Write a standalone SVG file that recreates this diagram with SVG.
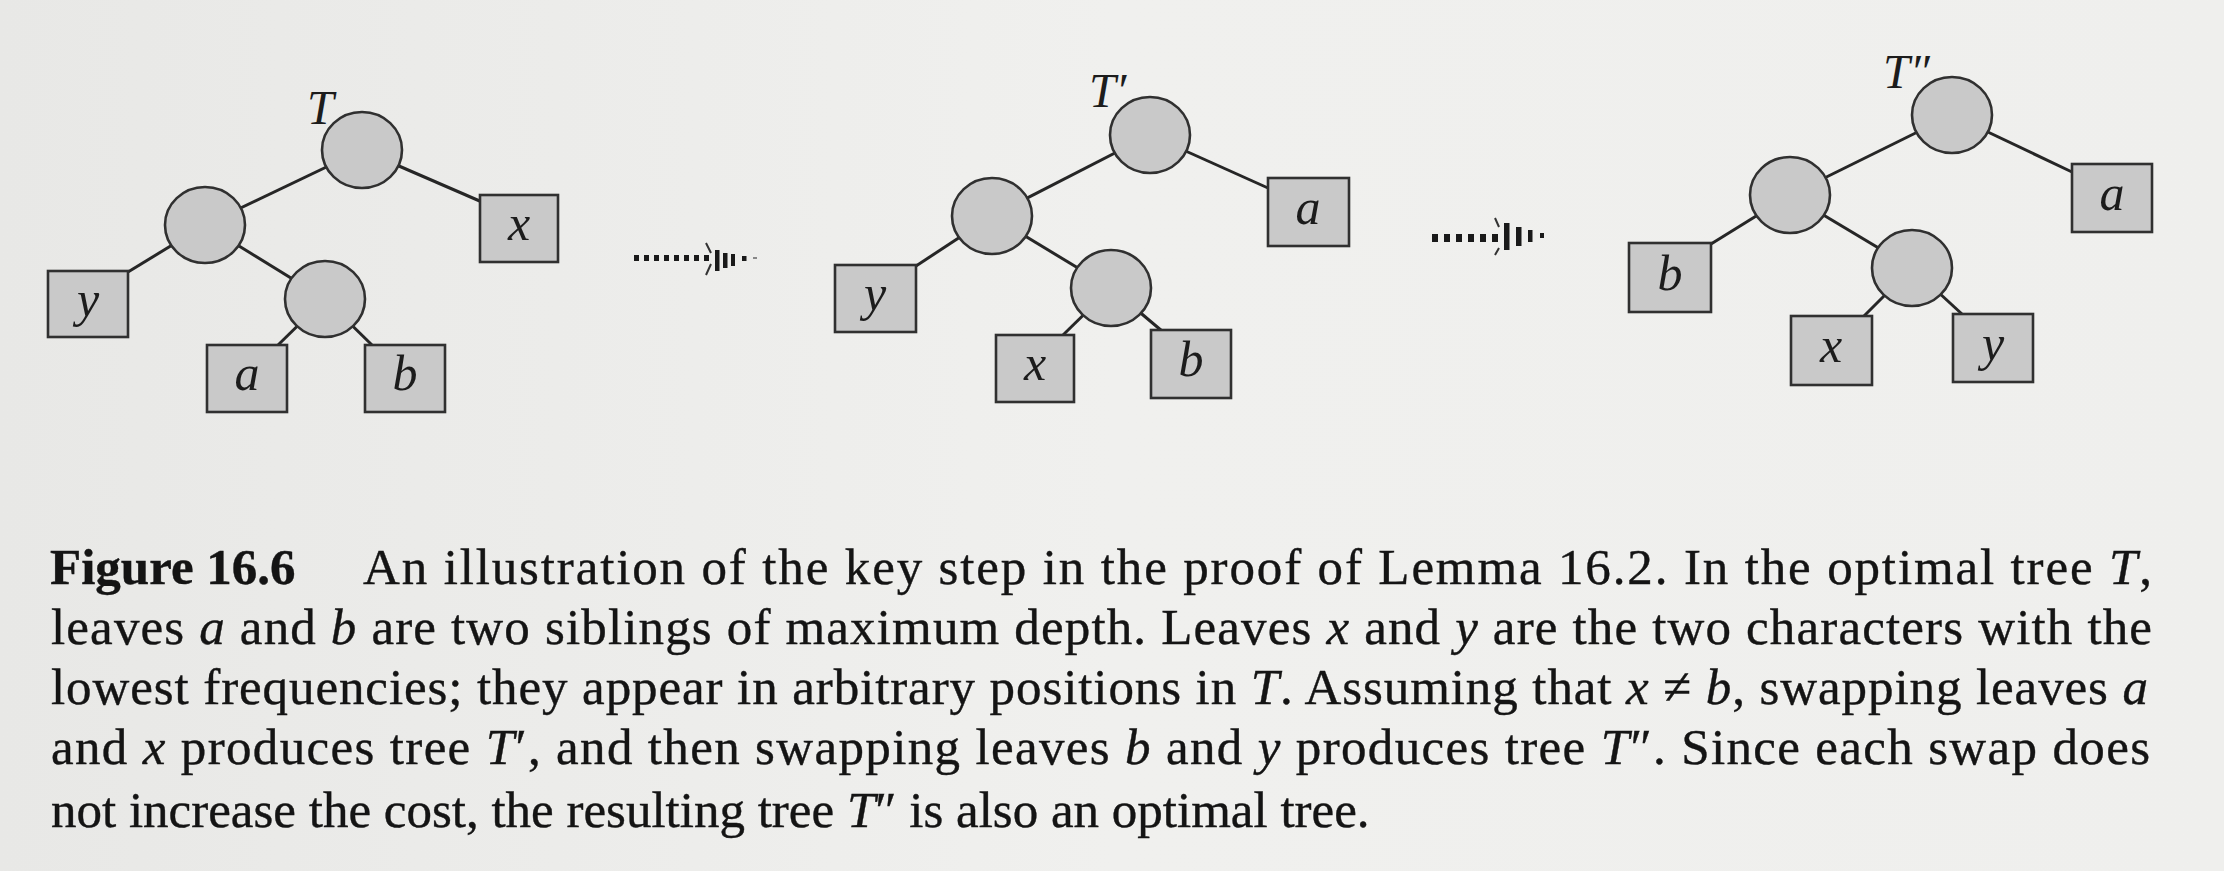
<svg xmlns="http://www.w3.org/2000/svg" width="2224" height="871" viewBox="0 0 2224 871">
<style>
.nd{fill:#c9c9c9;stroke:#303030;stroke-width:2.6}
.edge{stroke:#262626;stroke-width:3;fill:none}
.lbl{font-family:"Liberation Serif",serif;font-style:italic;font-size:50px;fill:#1c1c1c;text-anchor:middle}
.tn{font-family:"Liberation Serif",serif;font-style:italic;font-size:48px;fill:#1c1c1c}
.cap{font-family:"Liberation Serif",serif;font-size:51px;fill:#141414;stroke:#141414;stroke-width:0.4}
.i{font-style:italic}
.bd{font-weight:bold}
.dot{fill:#1a1a1a}
.barb{stroke:#333;stroke-width:2;fill:none}
</style>
<defs>
<linearGradient id="bg" x1="0" y1="0" x2="1" y2="0">
<stop offset="0" stop-color="#e8e8e6"/>
<stop offset="0.5" stop-color="#f0f0ee"/>
<stop offset="1" stop-color="#efefed"/>
</linearGradient>
</defs>
<rect width="2224" height="871" fill="url(#bg)"/>

<g id="connectors">
<line class="edge" x1="362" y1="150" x2="205" y2="225"/>
<line class="edge" x1="362" y1="150" x2="482" y2="202"/>
<line class="edge" x1="205" y1="225" x2="128" y2="272"/>
<line class="edge" x1="205" y1="225" x2="325" y2="299"/>
<line class="edge" x1="325" y1="299" x2="277" y2="346"/>
<line class="edge" x1="325" y1="299" x2="373" y2="346"/>

<line class="edge" x1="1150" y1="135" x2="992" y2="216"/>
<line class="edge" x1="1150" y1="135" x2="1268" y2="188"/>
<line class="edge" x1="992" y1="216" x2="916" y2="266"/>
<line class="edge" x1="992" y1="216" x2="1111" y2="288"/>
<line class="edge" x1="1111" y1="288" x2="1063" y2="335"/>
<line class="edge" x1="1111" y1="288" x2="1162" y2="331"/>

<line class="edge" x1="1952" y1="115" x2="1790" y2="195"/>
<line class="edge" x1="1952" y1="115" x2="2072" y2="172"/>
<line class="edge" x1="1790" y1="195" x2="1711" y2="244"/>
<line class="edge" x1="1790" y1="195" x2="1912" y2="268"/>
<line class="edge" x1="1912" y1="268" x2="1863" y2="317"/>
<line class="edge" x1="1912" y1="268" x2="1963" y2="315"/>

<g id="arrow1">
<rect class="dot" x="634" y="255" width="5" height="6"/>
<rect class="dot" x="644" y="255" width="5" height="6"/>
<rect class="dot" x="654" y="255" width="5" height="6"/>
<rect class="dot" x="664" y="255" width="5" height="6"/>
<rect class="dot" x="674" y="255" width="5" height="6"/>
<rect class="dot" x="684" y="255" width="5" height="6"/>
<rect class="dot" x="694" y="255" width="5" height="6"/>
<rect class="dot" x="704" y="255" width="5" height="6"/>
<path class="barb" d="M706 243 L711 253 M711 264 L706 275"/>
<rect class="dot" x="715" y="250" width="4.5" height="21"/>
<rect class="dot" x="723" y="253" width="4.5" height="15"/>
<rect class="dot" x="731" y="254" width="4" height="12"/>
<rect class="dot" x="742" y="256" width="4.5" height="5"/>
<rect x="753" y="257" width="4" height="2" fill="#888"/>
</g>
<g id="arrow2">
<rect class="dot" x="1432" y="234" width="6" height="8"/>
<rect class="dot" x="1444" y="234" width="6" height="8"/>
<rect class="dot" x="1456" y="234" width="6" height="8"/>
<rect class="dot" x="1468" y="234" width="6" height="8"/>
<rect class="dot" x="1480" y="234" width="6" height="8"/>
<rect class="dot" x="1492" y="234" width="6" height="8"/>
<path class="barb" d="M1495 218 L1499 227 M1499 248 L1495 255"/>
<rect class="dot" x="1504" y="223" width="5.5" height="27"/>
<rect class="dot" x="1516" y="227" width="5.5" height="19"/>
<rect class="dot" x="1528" y="230" width="4.5" height="12"/>
<rect class="dot" x="1540" y="233" width="4" height="5"/>
</g>
</g>

<g id="tree-T">
<text class="tn" x="307" y="124">T</text>
<g id="T-root"><ellipse class="nd" cx="362" cy="150" rx="40" ry="38"/></g>
<g id="T-n1"><ellipse class="nd" cx="205" cy="225" rx="40" ry="38"/></g>
<g id="T-n2"><ellipse class="nd" cx="325" cy="299" rx="40" ry="38"/></g>
<g id="T-x"><rect class="nd" x="480" y="195" width="78" height="67"/><text class="lbl" x="519" y="240">x</text></g>
<g id="T-y"><rect class="nd" x="48" y="271" width="80" height="66"/><text class="lbl" x="88" y="316">y</text></g>
<g id="T-a"><rect class="nd" x="207" y="345" width="80" height="67"/><text class="lbl" x="247" y="390">a</text></g>
<g id="T-b"><rect class="nd" x="365" y="345" width="80" height="67"/><text class="lbl" x="405" y="390">b</text></g>
</g>

<g id="tree-T1">
<text class="tn" x="1089" y="107">T′</text>
<g id="T1-root"><ellipse class="nd" cx="1150" cy="135" rx="40" ry="38"/></g>
<g id="T1-n1"><ellipse class="nd" cx="992" cy="216" rx="40" ry="38"/></g>
<g id="T1-n2"><ellipse class="nd" cx="1111" cy="288" rx="40" ry="38"/></g>
<g id="T1-a"><rect class="nd" x="1268" y="178" width="81" height="68"/><text class="lbl" x="1308" y="224">a</text></g>
<g id="T1-y"><rect class="nd" x="835" y="265" width="81" height="67"/><text class="lbl" x="875" y="310">y</text></g>
<g id="T1-x"><rect class="nd" x="996" y="335" width="78" height="67"/><text class="lbl" x="1035" y="380">x</text></g>
<g id="T1-b"><rect class="nd" x="1151" y="330" width="80" height="68"/><text class="lbl" x="1191" y="376">b</text></g>
</g>

<g id="tree-T2">
<text class="tn" x="1883" y="88">T″</text>
<g id="T2-root"><ellipse class="nd" cx="1952" cy="115" rx="40" ry="38"/></g>
<g id="T2-n1"><ellipse class="nd" cx="1790" cy="195" rx="40" ry="38"/></g>
<g id="T2-n2"><ellipse class="nd" cx="1912" cy="268" rx="40" ry="38"/></g>
<g id="T2-a"><rect class="nd" x="2072" y="164" width="80" height="68"/><text class="lbl" x="2112" y="210">a</text></g>
<g id="T2-b"><rect class="nd" x="1629" y="243" width="82" height="69"/><text class="lbl" x="1670" y="290">b</text></g>
<g id="T2-x"><rect class="nd" x="1791" y="316" width="81" height="69"/><text class="lbl" x="1831" y="362">x</text></g>
<g id="T2-y"><rect class="nd" x="1953" y="314" width="80" height="68"/><text class="lbl" x="1993" y="360">y</text></g>
</g>

<g id="caption">
<text class="cap bd" x="50" y="584">Figure 16.6</text>
<text class="cap" x="363" y="584" textLength="1789" lengthAdjust="spacing">An illustration of the key step in the proof of Lemma 16.2. In the optimal tree <tspan class="i">T</tspan>,</text>
<text class="cap" x="51" y="644" textLength="2101" lengthAdjust="spacing">leaves <tspan class="i">a</tspan> and <tspan class="i">b</tspan> are two siblings of maximum depth. Leaves <tspan class="i">x</tspan> and <tspan class="i">y</tspan> are the two characters with the</text>
<text class="cap" x="51" y="704" textLength="2097" lengthAdjust="spacing">lowest frequencies; they appear in arbitrary positions in <tspan class="i">T</tspan>. Assuming that <tspan class="i">x</tspan> ≠ <tspan class="i">b</tspan>, swapping leaves <tspan class="i">a</tspan></text>
<text class="cap" x="51" y="764" textLength="2099" lengthAdjust="spacing">and <tspan class="i">x</tspan> produces tree <tspan class="i">T</tspan>′, and then swapping leaves <tspan class="i">b</tspan> and <tspan class="i">y</tspan> produces tree <tspan class="i">T</tspan>″. Since each swap does</text>
<text class="cap" x="51" y="827">not increase the cost, the resulting tree <tspan class="i">T</tspan>″ is also an optimal tree.</text>
</g>
</svg>
